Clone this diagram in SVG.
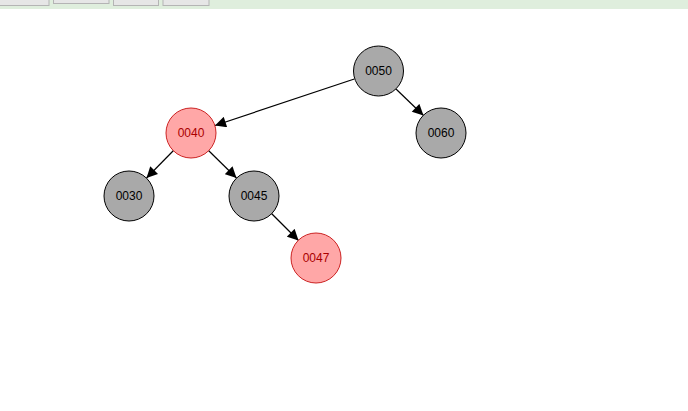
<svg xmlns="http://www.w3.org/2000/svg" width="688" height="411" viewBox="0 0 688 411">
<style>
.btn{fill:#e6e6e6;stroke:#b4b4b4;stroke-width:1}
.blk{fill:#a9a9a9;stroke:#000;stroke-width:1}
.red{fill:#ffa7a7;stroke:#cc2222;stroke-width:1}
.t{font-family:"Liberation Sans",Arial,sans-serif;font-size:12px;text-anchor:middle;dominant-baseline:central}
.tb{fill:#000}
.tr{fill:#aa0000}
.e{stroke:#000;stroke-width:1.2;fill:none;marker-end:url(#ah)}
</style>
<defs>
<marker id="ah" viewBox="0 0 10 10" refX="10" refY="5" markerWidth="12" markerHeight="11" markerUnits="userSpaceOnUse" orient="auto">
<path d="M0,0 L10,5 L0,10 z" fill="#000"/>
</marker>
</defs>
<rect x="0" y="0" width="688" height="9" fill="#dfeedd"/>
<rect class="btn" x="-1" y="-1" width="50" height="6.5"/>
<rect class="btn" x="53.5" y="-1" width="55.5" height="4.5"/>
<rect class="btn" x="113.5" y="-1" width="45" height="6.5"/>
<rect class="btn" x="163" y="-1" width="46" height="6.5"/>
<g id="connectors">
<line class="e" x1="354.3" y1="79" x2="215" y2="125.5"/>
<line class="e" x1="396" y1="89" x2="423.5" y2="115.5"/>
<line class="e" x1="173.5" y1="150.5" x2="146.5" y2="178"/>
<line class="e" x1="208.5" y1="150.5" x2="236.5" y2="178"/>
<line class="e" x1="271.5" y1="213.5" x2="298.5" y2="240.5"/>
</g>
<g id="n50"><circle class="blk" cx="378.5" cy="71" r="25"/><text class="t tb" x="378.5" y="71">0050</text></g>
<g id="n60"><circle class="blk" cx="441" cy="133" r="25"/><text class="t tb" x="441" y="133">0060</text></g>
<g id="n40"><circle class="red" cx="191" cy="133" r="25"/><text class="t tr" x="191" y="133">0040</text></g>
<g id="n30"><circle class="blk" cx="129" cy="196" r="25"/><text class="t tb" x="129" y="196">0030</text></g>
<g id="n45"><circle class="blk" cx="254" cy="196" r="25"/><text class="t tb" x="254" y="196">0045</text></g>
<g id="n47"><circle class="red" cx="316" cy="258" r="25"/><text class="t tr" x="316" y="258">0047</text></g>
</svg>
